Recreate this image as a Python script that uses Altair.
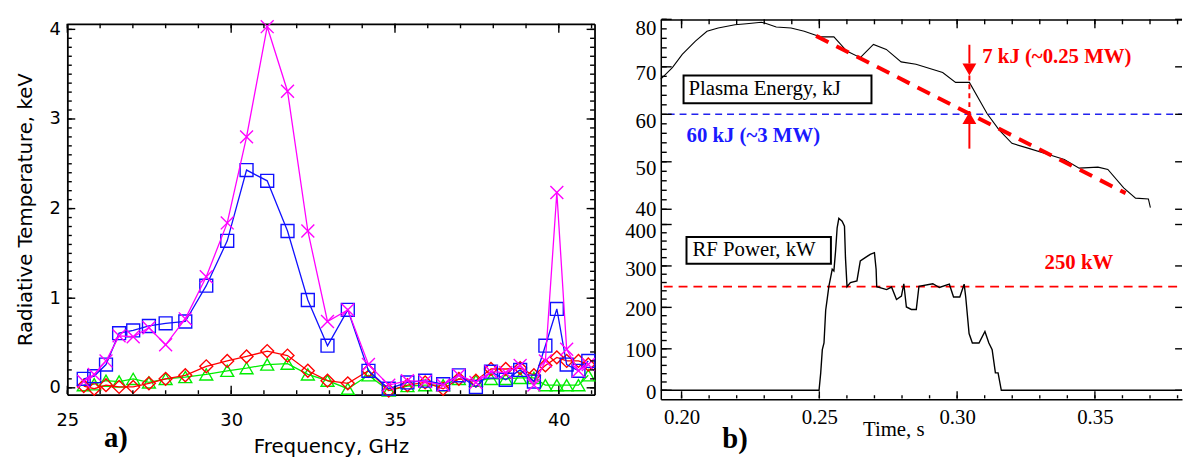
import altair as alt
import pandas as pd

# ---------------- panel a) : radiative temperature vs frequency ----------------
freq_ghz = [25.50, 25.82, 26.18, 26.58, 27.01, 27.49, 28.00, 28.60, 29.24, 29.88,
            30.47, 31.10, 31.72, 32.34, 32.94, 33.56, 34.19, 34.81, 35.38, 35.92,
            36.47, 36.95, 37.47, 37.93, 38.38, 38.82, 39.24, 39.59, 39.94, 40.24,
            40.60, 40.90]
te_magenta = [0.07, 0.15, 0.30, 0.58, 0.57, 0.67, 0.48, 0.77, 1.24, 1.84,
              2.80, 4.03, 3.31, 1.75, 0.74, 0.87, 0.26, 0.03, 0.08, 0.07,
              0.03, 0.14, 0.06, 0.18, 0.17, 0.25, 0.03, 0.30, 2.18, 0.43,
              0.19, 0.26]
te_blue = [0.10, 0.13, 0.26, 0.61, 0.64, 0.69, 0.72, 0.74, 1.14, 1.64,
           2.43, 2.31, 1.75, 0.98, 0.47, 0.87, 0.19, -0.01, 0.06, 0.08,
           0.04, 0.14, 0.01, 0.18, 0.09, 0.20, 0.07, 0.47, 0.88, 0.26,
           0.19, 0.30]
te_red = [0.02, -0.01, 0.03, 0.01, 0.01, 0.05, 0.10, 0.14, 0.24, 0.30,
          0.35, 0.41, 0.36, 0.19, 0.08, 0.05, 0.19, -0.03, 0.03, 0.06,
          -0.01, 0.10, 0.08, 0.21, 0.21, 0.22, 0.14, 0.25, 0.34, 0.30,
          0.30, 0.26]
te_green = [0.03, 0.04, 0.08, 0.07, 0.10, 0.06, 0.10, 0.12, 0.15, 0.19,
            0.22, 0.26, 0.27, 0.15, 0.08, -0.01, 0.14, -0.03, 0.02, 0.03,
            0.03, 0.10, 0.08, 0.10, 0.10, 0.11, 0.11, 0.03, 0.03, 0.03,
            0.03, 0.14]

x_domain_a = [25, 41.09]
y_domain_a = [-0.077, 4.062]
x_minor_a = list(range(25, 42))
x_labels_a = [25, 30, 35, 40]
y_minor_a = [round(0.1 * i, 1) for i in range(41)]
y_labels_a = [0, 1, 2, 3, 4]
label_a = ["a)"]
label_a_pos = [26.48, -0.66]

# ---------------- panel b) : plasma energy and RF power vs time ----------------
energy_t = [0.19246, 0.19666, 0.20025, 0.20503, 0.20922, 0.21328, 0.21938, 0.22358,
            0.22897, 0.23015, 0.23435, 0.23973, 0.24451, 0.24871, 0.25050, 0.25528,
            0.25994, 0.26486, 0.26963, 0.27430, 0.27968, 0.28507, 0.29476, 0.29943,
            0.30445, 0.31091, 0.31522, 0.31989, 0.32599, 0.33317, 0.33891, 0.34429,
            0.35111, 0.35470, 0.36045, 0.36475, 0.36942, 0.37014]
energy_kj = [67.4, 69.85, 72.63, 75.42, 77.50, 78.19, 78.88, 79.08,
             79.38, 79.23, 78.40, 78.19, 77.50, 76.67, 76.31, 76.31,
             73.33, 71.94, 74.71, 73.67, 71.04, 70.54, 68.81, 66.73,
             66.73, 60.13, 56.73, 53.88, 52.83, 51.52, 50.48, 48.67,
             48.88, 48.40, 44.50, 42.35, 42.15, 40.33]

power_t = [0.19246, 0.24989, 0.25050, 0.25108, 0.25169, 0.25230, 0.25287, 0.25348,
           0.25409, 0.25467, 0.25528, 0.25589, 0.25646, 0.25707, 0.25826, 0.25912,
           0.25948, 0.26005, 0.26127, 0.26364, 0.26486, 0.26665, 0.26845, 0.26999,
           0.27060, 0.27082, 0.27441, 0.27620, 0.27800, 0.27979, 0.28065, 0.28159,
           0.28338, 0.28518, 0.28615, 0.29117, 0.29358, 0.29717, 0.29871, 0.30097,
           0.30255, 0.30312, 0.30434, 0.30553, 0.30793, 0.31009, 0.31152, 0.31271,
           0.31389, 0.31486, 0.31604, 0.38162]
power_kw = [0, 0, 42, 98, 114, 193, 221, 252,
            272, 292, 288, 336, 392, 415, 408, 396,
            320, 250, 260, 264, 312, 320, 328, 332,
            292, 250, 243, 249, 219, 227, 257, 201,
            195, 195, 251, 257, 248, 256, 225, 225,
            256, 225, 137, 114, 114, 142, 114, 98,
            42, 42, 0, 0]

fit_t = [0.24882, 0.36116]
fit_kj = [76.52, 43.40]
level_kj = [60]
level_kj_t = [0.19497, 0.38162]
level_kw = [250]
level_kw_t = [0.19354, 0.38162]
arrow_t = [0.30445]
arrow_solid_kj = [[74.65, 70.69], [57.98, 52.77]]
arrow_dash_kj = [68.19, 60.48]
arrow_head_down_kj = [69.44]
arrow_head_up_kj = [59.23]

box_e = [0.20072, 0.26892, 62.35, 68.19]
box_p = [0.20179, 0.25420, 305.5, 369.9]
text_e = ["Plasma Energy, kJ"]
text_e_pos = [0.20251, 65.27]
text_p = ["RF Power, kW"]
text_p_pos = [0.20395, 337.7]
note_60 = ["60 kJ (~3 MW)"]
note_60_pos = [0.20179, 55.48]
note_7 = ["7 kJ (~0.25 MW)"]
note_7_pos = [0.30912, 72.15]
note_250 = ["250 kW"]
note_250_pos = [0.33173, 307.9]
label_b = ["b)"]
label_b_pos = [0.2194, -140]

t_domain = [0.19246, 0.38162]
e_domain = [0, 80]
p_domain = [-21.5, 895]
t_minor = [round(0.20 + 0.01 * i, 2) for i in range(19)]
t_labels = [0.20, 0.25, 0.30, 0.35]
e_minor = list(range(40, 81, 2))
e_labels = [40, 50, 60, 70, 80]
p_minor = list(range(0, 401, 20))
p_labels = [0, 100, 200, 300, 400]

FONT_A = "DejaVu Sans"
FONT_B = "Liberation Serif"
RED = "#ff0000"
BLUE = "#2222ee"
TICK_W = 1.4

WA, HA = 533, 375
WB, HB = 527, 384


def vticks(values, edge, span, xscale, yscale, length_px, plot_px, color="black",
           width=TICK_W, start_px=0.0):
    """Vertical tick segments at x=values, running from the horizontal frame edge `edge`
    inwards; the segment is listed inner end first."""
    a = edge + span * start_px / plot_px
    b = edge + span * length_px / plot_px
    d = pd.DataFrame({"x": values, "ya": [b] * len(values), "yb": [a] * len(values)})
    return alt.Chart(d).mark_rule(color=color, strokeWidth=width).encode(
        x=alt.X("x:Q", scale=xscale, axis=None), y=alt.Y("ya:Q", scale=yscale, axis=None),
        y2="yb")


def hticks(values, edge, span, xscale, yscale, length_px, plot_px, color="black",
           width=TICK_W, start_px=0.0):
    a = edge + span * start_px / plot_px
    b = edge + span * length_px / plot_px
    d = pd.DataFrame({"y": values, "xa": [b] * len(values), "xb": [a] * len(values)})
    return alt.Chart(d).mark_rule(color=color, strokeWidth=width).encode(
        x=alt.X("xa:Q", scale=xscale, axis=None), x2="xb",
        y=alt.Y("y:Q", scale=yscale, axis=None))


LOW = dict(start_px=0.8)

# ======================= panel a =======================
xa = alt.Scale(domain=x_domain_a, nice=False, zero=False)
ya = alt.Scale(domain=y_domain_a, nice=False, zero=False)
frame_a = pd.DataFrame({"f": [25.0, 41.0], "v": [0.0, 4.0]})
sx_a = x_domain_a[1] - x_domain_a[0]
sy_a = y_domain_a[1] - y_domain_a[0]


def series_layers(vals, color, shape, size):
    d = pd.DataFrame({"f": freq_ghz, "v": vals})
    enc = dict(x=alt.X("f:Q", scale=xa, axis=None), y=alt.Y("v:Q", scale=ya, axis=None))
    line = alt.Chart(d).mark_line(color=color, strokeWidth=1.3).encode(**enc)
    pts = alt.Chart(d).mark_point(shape=shape, color=color, size=size, strokeWidth=1.4,
                                  filled=False, opacity=1).encode(**enc)
    return [line, pts]


ax_a_main = alt.Chart(frame_a).mark_point(opacity=0).encode(
    x=alt.X("f:Q", scale=xa, axis=alt.Axis(
        orient="bottom", values=x_labels_a, ticks=False, domain=True, domainColor="black",
        domainWidth=1.8, labelFont=FONT_A, labelFontSize=18, labelColor="black",
        labelPadding=17, labelFlush=False, title="Frequency, GHz", titleFont=FONT_A,
        titleFontSize=20, titleFontWeight="normal", titleColor="black", titleY=58,
        titleBaseline="alphabetic", grid=False)),
    y=alt.Y("v:Q", scale=ya, axis=alt.Axis(
        orient="left", values=y_labels_a, ticks=False, domain=True, domainColor="black",
        domainWidth=1.8, labelFont=FONT_A, labelFontSize=18, labelColor="black",
        labelPadding=7, labelFlush=False, title="Radiative Temperature, keV",
        titleFont=FONT_A, titleFontSize=20, titleFontWeight="normal", titleColor="black",
        titleX=-36, titleAngle=270, titleBaseline="alphabetic", grid=False)),
)
ax_a_frame = alt.Chart(frame_a).mark_point(opacity=0).encode(
    x=alt.X("f:Q", scale=xa, axis=alt.Axis(orient="top", ticks=False, labels=False, title=None,
                                          domain=True, domainColor="black", domainWidth=1.8,
                                          grid=False)),
    y=alt.Y("v:Q", scale=ya, axis=alt.Axis(orient="right", ticks=False, labels=False, title=None,
                                          domain=True, domainColor="black", domainWidth=1.8,
                                          grid=False)),
)
ticks_a = [
    vticks(x_minor_a, y_domain_a[0], sy_a, xa, ya, 4.5, HA, **LOW),
    vticks(x_labels_a, y_domain_a[0], sy_a, xa, ya, 9, HA, **LOW),
    vticks(x_minor_a, y_domain_a[1], -sy_a, xa, ya, 4.5, HA),
    vticks(x_labels_a, y_domain_a[1], -sy_a, xa, ya, 9, HA),
    hticks(y_minor_a, x_domain_a[0], sx_a, xa, ya, 4.5, WA, **LOW),
    hticks(y_labels_a, x_domain_a[0], sx_a, xa, ya, 8, WA, **LOW),
    hticks(y_minor_a, x_domain_a[1], -sx_a, xa, ya, 4.5, WA),
    hticks(y_labels_a, x_domain_a[1], -sx_a, xa, ya, 8, WA),
]
lab_a = alt.Chart(pd.DataFrame({"f": [label_a_pos[0]], "v": [label_a_pos[1]], "s": label_a})).mark_text(
    font=FONT_B, fontSize=29, fontWeight="bold", color="black", align="center",
    baseline="alphabetic").encode(
    x=alt.X("f:Q", scale=xa, axis=None), y=alt.Y("v:Q", scale=ya, axis=None), text="s:N")

X_PATH = "M-1,-1L1,1M-1,1L1,-1"
layers_a = [ax_a_main, ax_a_frame]
layers_a += series_layers(te_green, "#00ee00", "triangle-up", 170)
layers_a += series_layers(te_red, RED, "diamond", 170)
layers_a += series_layers(te_blue, "#1010ff", "square", 170)
layers_a += series_layers(te_magenta, "#ff00ff", X_PATH, 170)
layers_a += ticks_a + [lab_a]
panel_a = alt.layer(*layers_a).resolve_axis(x="independent", y="independent").properties(
    width=WA, height=HA)

# ======================= panel b =======================
xb = alt.Scale(domain=t_domain, nice=False, zero=False)
ye = alt.Scale(domain=e_domain, nice=False, zero=False)
yp = alt.Scale(domain=p_domain, nice=False, zero=False)
sx_b = t_domain[1] - t_domain[0]
se_b = e_domain[1] - e_domain[0]
sp_b = p_domain[1] - p_domain[0]


def XB(field, axis=None):
    return alt.X(field, scale=xb, axis=axis)


def YE(field, axis=None):
    return alt.Y(field, scale=ye, axis=axis)


def YP(field, axis=None):
    return alt.Y(field, scale=yp, axis=axis)


lab_b_kw = dict(labelFont=FONT_B, labelFontSize=21, labelColor="black", labelFlush=False)

# --- energy group
e_df = pd.DataFrame({"t": energy_t, "e": energy_kj})
fit_df = pd.DataFrame({"t": fit_t, "e": fit_kj})
lvl_e_df = pd.DataFrame({"t0": [level_kj_t[0]], "t1": [level_kj_t[1]], "e": level_kj})
top_df = pd.DataFrame({"t0": [t_domain[0]], "t1": [t_domain[1]], "e": [e_domain[1] - 0.15]})
solid_df = pd.DataFrame({"t": arrow_t * 2, "e0": [s[0] for s in arrow_solid_kj],
                         "e1": [s[1] for s in arrow_solid_kj]})
dash_df = pd.DataFrame({"t": arrow_t, "e0": [arrow_dash_kj[0]], "e1": [arrow_dash_kj[1]]})
hd_df = pd.DataFrame({"t": arrow_t, "e": arrow_head_down_kj})
hu_df = pd.DataFrame({"t": arrow_t, "e": arrow_head_up_kj})
boxe_df = pd.DataFrame({"t0": [box_e[0]], "t1": [box_e[1]], "e0": [box_e[2]], "e1": [box_e[3]]})
txte_df = pd.DataFrame({"t": [text_e_pos[0]], "e": [text_e_pos[1]], "s": text_e})
n60_df = pd.DataFrame({"t": [note_60_pos[0]], "e": [note_60_pos[1]], "s": note_60})
n7_df = pd.DataFrame({"t": [note_7_pos[0]], "e": [note_7_pos[1]], "s": note_7})
frame_e = pd.DataFrame({"t": [0.20, 0.38], "e": [40.0, 80.0]})

e_main = alt.Chart(frame_e).mark_point(opacity=0).encode(
    x=XB("t:Q"),
    y=YE("e:Q", alt.Axis(
        orient="left", values=e_labels, ticks=False, domain=True, domainColor="black",
        domainWidth=1.5, labelPadding=5, title=None, grid=False,
        labelOffset={"condition": [{"test": "datum.value === 80", "value": 9},
                                   {"test": "datum.value === 40", "value": 0}], "value": 7},
        **lab_b_kw)),
)
e_layers = [
    e_main,
    alt.Chart(lvl_e_df).mark_rule(color=BLUE, strokeWidth=1.6, strokeDash=[7, 5]).encode(
        x=XB("t0:Q"), x2="t1", y=YE("e:Q")),
    alt.Chart(e_df).mark_line(color="black", strokeWidth=1.1).encode(x=XB("t:Q"), y=YE("e:Q")),
    alt.Chart(fit_df).mark_line(color=RED, strokeWidth=4, strokeDash=[14, 9]).encode(
        x=XB("t:Q"), y=YE("e:Q")),
    alt.Chart(solid_df).mark_rule(color=RED, strokeWidth=2).encode(
        x=XB("t:Q"), y=YE("e0:Q"), y2="e1"),
    alt.Chart(dash_df).mark_rule(color=RED, strokeWidth=2, strokeDash=[5, 4]).encode(
        x=XB("t:Q"), y=YE("e0:Q"), y2="e1"),
    alt.Chart(hd_df).mark_point(shape="triangle-down", filled=True, color=RED, size=196,
                                opacity=1).encode(x=XB("t:Q"), y=YE("e:Q")),
    alt.Chart(hu_df).mark_point(shape="triangle-up", filled=True, color=RED, size=196,
                                opacity=1).encode(x=XB("t:Q"), y=YE("e:Q")),
    alt.Chart(boxe_df).mark_rect(fill="white", stroke="black", strokeWidth=2).encode(
        x=XB("t0:Q"), x2="t1", y=YE("e0:Q"), y2="e1"),
    alt.Chart(txte_df).mark_text(font=FONT_B, fontSize=21, color="black", align="left",
                                 baseline="middle").encode(x=XB("t:Q"), y=YE("e:Q"), text="s:N"),
    alt.Chart(n60_df).mark_text(font=FONT_B, fontSize=21, fontWeight="bold", color="#1a1aff",
                                align="left", baseline="middle").encode(
        x=XB("t:Q"), y=YE("e:Q"), text="s:N"),
    alt.Chart(n7_df).mark_text(font=FONT_B, fontSize=21, fontWeight="bold", color=RED,
                               align="left", baseline="middle").encode(
        x=XB("t:Q"), y=YE("e:Q"), text="s:N"),
    alt.Chart(top_df).mark_rule(color="black", strokeWidth=1.5).encode(
        x=XB("t0:Q"), x2="t1", y=YE("e:Q")),
    vticks(t_minor, e_domain[1], -se_b, xb, ye, 5, HB),
    vticks(t_labels, e_domain[1], -se_b, xb, ye, 9, HB),
    hticks(e_minor, t_domain[0], sx_b, xb, ye, 6, WB, **LOW),
    hticks(e_labels, t_domain[0], sx_b, xb, ye, 11, WB, **LOW),
    hticks(e_labels, t_domain[1], -sx_b, xb, ye, 7, WB),
]
energy_group = alt.layer(*e_layers).resolve_axis(x="independent", y="independent")

# --- power group
p_df = pd.DataFrame({"t": power_t, "p": power_kw})
lvl_p_df = pd.DataFrame({"t0": [level_kw_t[0]], "t1": [level_kw_t[1]], "p": level_kw})
boxp_df = pd.DataFrame({"t0": [box_p[0]], "t1": [box_p[1]], "p0": [box_p[2]], "p1": [box_p[3]]})
txtp_df = pd.DataFrame({"t": [text_p_pos[0]], "p": [text_p_pos[1]], "s": text_p})
n250_df = pd.DataFrame({"t": [note_250_pos[0]], "p": [note_250_pos[1]], "s": note_250})
labb_df = pd.DataFrame({"t": [label_b_pos[0]], "p": [label_b_pos[1]], "s": label_b})
frame_p = pd.DataFrame({"t": [0.20, 0.38], "p": [0.0, 400.0]})

p_main = alt.Chart(frame_p).mark_point(opacity=0).encode(
    x=XB("t:Q", alt.Axis(
        orient="bottom", values=t_labels, format=".2f", ticks=False, domain=True,
        domainColor="black", domainWidth=1.5, labelPadding=8, title="Time, s",
        titleFont=FONT_B, titleFontSize=21, titleFontWeight="normal", titleColor="black",
        titleX=235, titleY=37, titleBaseline="alphabetic", grid=False, **lab_b_kw)),
    y=YP("p:Q", alt.Axis(
        orient="left", values=p_labels, ticks=False, domain=False, labelPadding=5,
        labelOffset={"condition": [{"test": "datum.value === 400", "value": 7},
                                   {"test": "datum.value === 300", "value": 4}], "value": 2},
        title=None, grid=False, **lab_b_kw)),
)
p_layers = [
    p_main,
    alt.Chart(lvl_p_df).mark_rule(color=RED, strokeWidth=1.8, strokeDash=[9, 6]).encode(
        x=XB("t0:Q"), x2="t1", y=YP("p:Q")),
    alt.Chart(p_df).mark_line(color="black", strokeWidth=1.4).encode(x=XB("t:Q"), y=YP("p:Q")),
    alt.Chart(boxp_df).mark_rect(fill="white", stroke="black", strokeWidth=2).encode(
        x=XB("t0:Q"), x2="t1", y=YP("p0:Q"), y2="p1"),
    alt.Chart(txtp_df).mark_text(font=FONT_B, fontSize=21, color="black", align="left",
                                 baseline="middle").encode(x=XB("t:Q"), y=YP("p:Q"), text="s:N"),
    alt.Chart(n250_df).mark_text(font=FONT_B, fontSize=21, fontWeight="bold", color=RED,
                                 align="left", baseline="middle").encode(
        x=XB("t:Q"), y=YP("p:Q"), text="s:N"),
    alt.Chart(labb_df).mark_text(font=FONT_B, fontSize=29, fontWeight="bold", color="black",
                                 align="center", baseline="alphabetic").encode(
        x=XB("t:Q"), y=YP("p:Q"), text="s:N"),
    vticks(t_minor, p_domain[0], sp_b, xb, yp, 4, HB, **LOW),
    vticks(t_labels, p_domain[0], sp_b, xb, yp, 8, HB, **LOW),
    hticks(p_minor, t_domain[0], sx_b, xb, yp, 6, WB, **LOW),
    hticks(p_labels, t_domain[0], sx_b, xb, yp, 11, WB, **LOW),
    hticks(p_labels, t_domain[1], -sx_b, xb, yp, 7, WB),
]
power_group = alt.layer(*p_layers).resolve_axis(x="independent", y="independent")

panel_b = alt.layer(energy_group, power_group).resolve_scale(y="independent").resolve_axis(
    x="independent", y="independent").properties(width=WB, height=HB)

chart = alt.hconcat(panel_a, panel_b, spacing=67, bounds="flush", center=True).properties(
    padding={"left": 7, "top": 6, "right": 0, "bottom": 0}
).configure_view(strokeWidth=0).configure_axis(grid=False)

chart.save("out.html", embed_options={"renderer": "svg", "actions": False})
